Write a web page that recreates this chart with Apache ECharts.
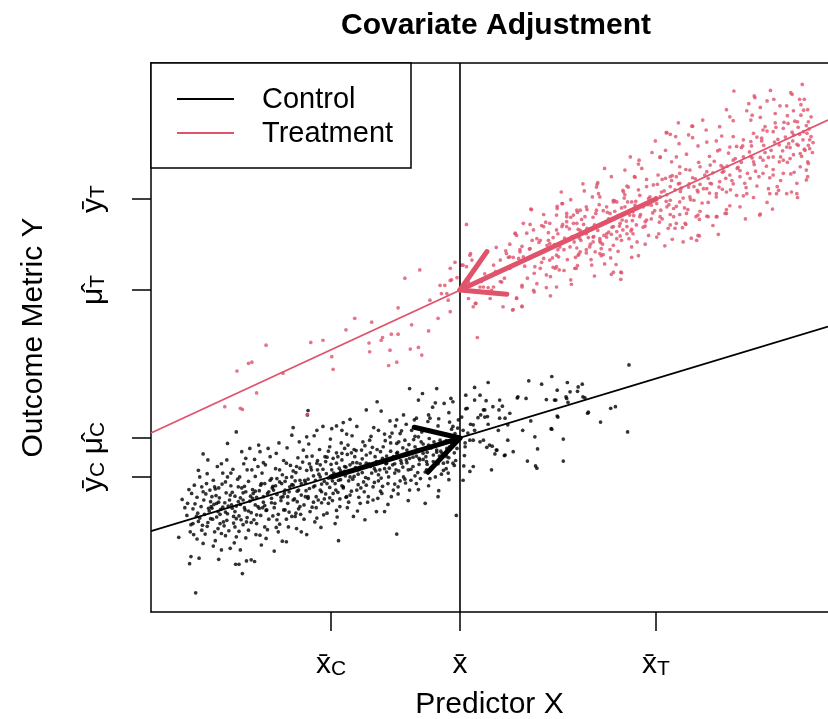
<!DOCTYPE html>
<html><head><meta charset="utf-8">
<script src="https://cdn.jsdelivr.net/npm/echarts@6/dist/echarts.min.js"></script>
<style>html,body{margin:0;padding:0;background:#fff}#c{width:828px;height:719px}</style>
</head><body><div id="c"></div><script>
const FONT = "'Liberation Sans', Arial, Helvetica, sans-serif";
const RED = '#DF536B';
const xTickValues = [26.59, 45.64, 74.59];
const xTickLabels = ['{m|x\u0304}{s|C}', '{m|x\u0304}', '{m|x\u0304}{s|T}'];
const yTickValues = [24.59, 31.69, 58.65, 75.23];
const yTickLabels = ['{m|y\u0304}{s|C}', '{m|\u03bc\u0302}{s|C}', '{m|\u03bc\u0302}{s|T}', '{m|y\u0304}{s|T}'];
const controlLine = [[0, 14.75], [100, 52.0]];
const treatmentLine = [[0, 32.6], [100, 89.6]];
const meanLineX = [45.64, 45.64];
const meanLineY = [0, 100];
const legendNames = ['Control', 'Treatment'];

const controlPoints = [
[47.8,40.9],[49.8,41.8],[55.8,42.1],[57.7,41.5],[59.2,42.9],[61.5,41.8],[63.7,41.5],[60.0,40.4],[61.9,40.1],[63.0,40.2],[63.8,39.2],[61.4,38.9],[59.6,38.6],[58.4,38.7],[55.4,38.9],[54.1,39.0],[51.5,38.6],[49.5,38.5],[46.5,39.5],[48.6,39.5],[47.8,38.6],[46.5,37.0],[49.1,36.8],[50.5,37.4],[51.4,36.8],[51.9,37.5],[53.0,36.2],[49.7,35.6],[48.3,35.4],[47.2,34.2],[49.8,34.2],[51.5,35.3],[56.1,34.8],[60.0,35.7],[64.6,36.4],[66.4,34.6],[67.9,37.1],[68.6,37.4],[70.6,45.0],[70.4,32.8],[59.1,33.4],[56.7,31.9],[60.9,31.5],[57.1,29.7],[55.6,27.5],[56.8,26.6],[57.0,26.2],[60.9,27.5],[53.5,29.2],[52.2,28.5],[51.0,29.5],[50.0,30.4],[50.3,25.9],[47.6,26.5],[46.2,26.6],[47.1,31.3],[48.6,31.0],[49.1,31.3],[52.7,31.3],[54.9,33.1],[51.3,33.1],[47.8,33.1],[46.4,30.1],[45.1,17.6],
[46.1,33.1],[46.8,32.6],[47.6,31.3],[46.4,30.8],[49.6,30.0],[50.4,30.2],[51.1,29.5],[50.8,28.8],[52.3,28.6],[47.6,34.1],[49.3,35.5],[48.7,35.9],[52.3,35.3],[52.7,34.1],[46.7,37.1],[49.3,36.8],[54.2,39.2],[59.8,38.6],[60.1,35.5],[59.2,33.3],[61.3,39.2],[61.6,38.2],[63.1,41.0],[64.1,39.0],[64.5,36.2],[46.1,24.0],[47.1,25.6],[46.3,28.5],
[38.2,40.7],[40.1,39.8],[42.2,40.7],[39.5,38.6],[42.0,38.1],[43.3,38.0],[44.6,38.3],[33.4,38.3],[34.0,36.6],[31.8,36.8],[36.3,35.0],[35.3,34.8],[37.3,35.9],[39.2,35.3],[41.0,35.9],[41.2,35.3],[44.1,34.6],[44.6,33.8],[30.4,33.8],[29.4,35.1],[28.4,34.5],[27.4,33.9],[28.2,33.1],[28.9,32.4],[26.7,33.4],[25.4,33.8],[24.5,33.1],[23.2,36.7],[23.1,35.9],[21.0,33.6],[20.8,32.2],[23.0,31.9],[12.6,32.8],[11.3,30.7],[7.7,28.8],[8.4,27.7],
[6.6,3.5],[13.5,7.0],[5.7,8.8],[7.1,9.8],[5.9,10.1],[10.0,9.6],[12.5,8.7],[13.0,8.7],[14.1,9.3],[14.8,9.5],[15.3,9.2],[4.1,13.6],[7.7,12.5],[9.2,12.0],[10.4,11.3],[11.7,11.6],[13.2,11.3],[16.3,12.2],[18.2,11.1],[20.0,12.8],[27.7,13.0],[36.3,14.2],
[4.6,20.5],[5.4,19.8],[5.8,14.6],[6.2,16.1],[6.7,17.4],[7.5,14.9],[7.7,21.9],[8.5,18.9],[9.0,21.0],[7.2,24.6],[8.7,22.2],[9.4,22.8],[9.7,19.8],[9.9,18.3],[10.2,16.1],[10.4,14.3],[11.0,23.7],[11.2,27.7],[11.3,24.6],[11.7,21.3],[11.9,19.5],[12.2,17.4],[12.4,15.5],[12.6,13.7],[12.9,22.8],[13.1,24.6],[13.4,29.2],[13.6,20.4],[13.9,18.6],[14.1,16.4],[14.4,14.9],[14.6,29.8],[14.9,25.9],[15.1,21.6],[15.4,19.5],[15.6,17.7],[15.8,26.5],[16.1,29.2],[16.3,23.4],[16.6,21.0],[16.8,15.5],[17.1,18.6],[17.3,29.8],[17.6,28.3],[17.8,24.3],[18.1,22.2],[18.3,19.8],[18.6,16.8],[18.8,14.6],[19.0,25.9],[19.3,23.4],[19.5,21.0],[19.8,18.6],[20.0,27.1],[20.3,15.5],[20.5,22.8],[20.8,24.6],[21.0,20.4],[21.3,17.4],[21.5,26.5],[21.8,22.2],[22.0,19.2],[22.2,14.6],[22.5,29.5],[22.7,24.0],[23.0,28.3],[23.2,21.0],[23.5,18.3],[23.7,25.9],[24.0,22.8],[24.2,16.4],[24.5,27.1],[24.7,20.4],[25.0,24.6],[25.2,21.9],[25.5,17.7],[25.7,28.3],[26.0,23.4],[26.2,19.8],[26.4,30.1],[26.7,25.9],[26.9,21.6],[27.2,16.1],[27.4,27.1],[27.7,24.0],[27.9,19.2],[28.2,28.9],[28.4,22.8],[28.6,26.5],[28.9,21.0],[29.1,30.4],[29.4,24.6],[29.9,17.4],[30.1,28.3],[30.4,22.2],[30.6,25.9],[30.9,19.8],[31.1,29.5],[31.4,23.7],[31.6,16.8],[31.8,27.1],[32.1,21.0],[32.3,31.3],[32.6,25.3],[32.8,22.8],[33.1,28.3],[33.3,18.3],[33.6,33.1],[33.8,25.9],[34.1,21.6],[34.3,30.1],[34.5,18.3],[34.8,27.1],[35.0,23.4],[35.3,31.9],[35.5,21.0],[35.8,28.3],[36.0,25.3],[36.3,30.7],[36.5,22.8],[36.8,32.5],[37.0,27.1],[37.3,24.6],[37.5,31.3],[37.8,29.5],[38.0,25.9],[38.2,22.2],[38.5,33.1],[38.7,26.5],[39.0,30.1],[39.2,23.4],[39.5,31.9],[39.7,27.7],[40.2,28.9],[40.5,19.8],[40.7,25.9],[41.0,30.4],[41.2,33.1],[41.7,27.4],[42.0,24.6],[42.2,29.5],[42.4,21.0],[42.7,31.3],[43.2,27.1],[43.7,28.3],[43.9,25.3],[44.1,30.1],[44.6,27.1],[44.9,32.5],[45.4,35.0],[45.9,35.5],
[6.2,18.8],[6.8,20.9],[7.0,16.5],[7.4,19.2],[7.9,17.8],[8.1,21.5],[8.3,15.6],[8.6,18.4],[8.8,20.1],[9.1,16.9],[9.3,19.6],[9.5,22.4],[9.7,17.3],[9.9,15.2],[10.1,20.8],[10.3,18.7],[10.5,23.3],[10.7,16.4],[10.9,19.9],[11.1,21.7],[11.3,17.9],[11.5,14.8],[11.6,20.4],[11.8,23.0],[12.0,18.9],[12.2,16.2],[12.4,21.1],[12.6,19.3],[12.8,24.2],[13.0,17.5],[13.2,20.8],[13.4,22.6],[13.6,15.9],[13.8,19.0],[14.0,21.9],[14.2,17.2],[14.4,23.8],[14.6,20.2],[14.8,18.1],[15.0,22.3],[15.2,16.8],[15.4,24.7],[15.6,20.9],[15.8,19.2],[16.0,22.1],[16.2,17.6],[16.4,25.3],[16.6,20.0],[16.8,23.4],[17.0,18.5],[17.2,21.6],[17.4,16.9],[17.6,24.0],[17.8,20.7],[18.0,22.9],[18.2,19.0],[18.4,26.1],[18.6,21.4],[18.8,17.8],[19.0,23.7],[19.2,20.3],[19.4,25.0],[19.6,18.6],[19.8,22.2],[20.0,24.5],[20.2,19.8],[20.4,21.9],[20.6,26.7],[20.8,17.4],[21.0,23.1],[21.2,20.6],[21.4,25.4],[21.6,22.0],[21.8,18.8],[22.0,24.0],[22.2,21.3],[22.4,27.3],[22.6,19.5],[22.8,23.6],[23.0,25.8],[23.2,20.7],[23.4,22.5],[23.6,26.4],[23.8,19.1],[24.0,24.8],[24.2,23.0],[24.4,21.0],[24.6,27.6],[24.8,25.1],[25.0,22.2],[25.2,19.9],[25.4,26.0],[25.6,23.8],[25.8,21.5],[26.0,28.2],[26.2,24.4],[26.4,22.7],[26.6,26.9],[26.8,20.3],[27.0,25.3],[27.2,23.4],[27.4,29.0],[27.6,21.8],[27.8,26.2],[28.0,24.1],[28.2,27.7],[28.4,22.6],[28.6,25.6],[28.8,20.9],[29.0,28.7],[29.2,23.9],[29.4,26.8],[29.6,22.0],[29.8,27.2],[30.0,24.7],[30.3,29.4],[30.6,23.2],[30.9,27.0],[31.2,25.4],[31.5,21.9],[31.8,28.6],[32.1,24.3],[32.4,26.5],[32.7,30.0],[33.0,23.6],[33.3,27.4],[33.6,25.0],[33.9,29.2],[34.2,22.9],[34.5,26.1],[34.8,28.4],[35.1,24.6],[35.4,30.8],[35.7,26.8],[36.0,23.3],[36.3,28.9],[36.6,25.7],[36.9,27.6],[37.2,29.9],[37.5,24.2],[37.8,27.2],[38.1,30.5],[38.4,26.0],[38.7,28.2],[39.0,24.8],[39.3,29.6],[39.6,26.9],[39.9,31.0],[40.2,27.8],[40.5,25.5],[40.8,29.1],[41.1,31.6],[41.4,26.3],[41.7,28.6],[42.0,30.2],[42.4,27.0],[42.8,29.3],[43.2,25.8],[43.6,31.2],[44.0,28.1],[44.4,30.6],[44.8,26.7],[45.2,29.8],
[5.3,17.6],[5.9,15.9],[6.5,19.7],[7.2,17.1],[7.8,20.4],[8.4,16.3],[9.0,18.9],[9.6,21.2],[10.2,17.8],[10.8,15.7],[11.4,19.3],[12.0,21.8],[12.6,17.0],[13.2,19.6],[13.8,22.9],[14.4,18.4],[15.0,20.7],[15.6,16.1],[16.2,23.1],[16.8,19.4],[17.4,21.9],[18.0,17.5],[18.6,24.3],[19.2,20.9],[19.8,23.8],[20.4,18.2],[21.0,25.7],[21.6,20.1],[22.2,23.4],[22.8,21.0],[23.4,27.0],[24.0,20.0],[24.6,25.9],[25.2,23.3],[25.8,27.4],[26.4,20.8],[27.0,24.6],[27.6,28.3],[28.2,23.0],[28.8,26.4],[29.4,21.3],[30.0,29.6],[30.6,25.1],[31.2,27.9],[31.8,23.1],[32.4,29.0],[33.0,26.1],[33.6,23.9],[34.2,28.0],[34.8,25.5],[35.4,29.3],[36.0,27.0],[36.6,31.0],[37.2,26.4],[37.8,28.6],[38.4,24.0],[39.0,32.0],[39.6,28.0],[40.2,30.6],[40.8,26.9],[41.4,29.9],[42.0,32.7],[42.6,28.4],[43.2,30.9],[43.8,27.3],[44.4,33.3],[45.0,31.1],
[6.0,21.6],[7.5,22.8],[9.2,24.0],[10.6,25.3],[12.1,26.0],[13.7,27.0],[15.3,27.8],[16.9,26.8],[18.5,28.9],[20.1,29.9],[21.7,28.1],[23.3,30.6],[24.9,29.6],[26.5,31.5],[28.1,30.8],[29.7,32.1],[31.3,31.0],[32.9,33.6],[34.5,32.4],[36.1,33.9],[37.7,34.2],[39.3,33.6],[40.9,34.7],[42.5,35.2],[44.0,36.3],
[6.8,13.3],[8.0,14.2],[9.5,13.0],[11.0,13.9],[12.3,12.6],[14.0,13.5],[15.5,14.1],[17.0,13.4],[18.5,15.4],[20.0,16.9],[21.5,15.2],[23.0,14.1],[24.5,17.1],[26.0,18.0],[27.5,17.3],[29.0,19.0],[30.5,18.4],[32.0,20.0],[33.5,20.7],[35.0,19.6],[36.5,21.5],[38.0,20.3],[39.5,22.3],[41.0,23.0],[42.5,22.1],[44.0,24.1],
[8.9,19.2],[10.0,20.0],[11.0,18.2],[12.9,20.1],[14.7,21.1],[16.5,19.0],[17.9,22.6],[19.7,21.6],[21.3,23.9],[22.9,22.1],[24.3,24.0],[25.9,25.2],[27.3,22.2],[28.7,24.8],[30.2,26.3],[31.7,24.5],[33.2,25.7],[34.7,27.0],[36.2,25.9],[37.7,27.7],[39.2,28.4],[40.7,27.4],[42.2,29.1],[43.7,29.8],
[5.0,19.0],[5.6,22.3],[6.3,14.1],[6.9,18.0],[7.6,15.8],[8.2,23.4],[8.8,17.0],[9.4,14.6],[10.0,22.6],[10.6,19.1],[11.2,16.7],[11.8,25.3],[12.4,18.3],[13.0,14.7],[13.6,21.7],[14.2,25.9],[14.8,16.3],[15.4,22.0],[16.0,18.9],[16.6,27.2],[17.2,15.0],[17.8,19.9],[18.4,23.0],[19.0,16.0],[19.6,27.6],[20.2,21.0],[20.8,23.2],[21.4,18.0],[22.0,26.2],[22.6,16.9],[23.2,24.2],[23.8,28.4],[24.4,19.0],[25.0,26.8],[25.6,20.6],[26.2,29.3],[26.8,23.9],[27.4,18.5],[28.0,25.7],[28.6,29.8],[29.2,20.0],[29.8,24.2],[30.4,27.2],[31.0,22.6],[31.6,30.3],[32.2,27.0],[32.8,20.4],[33.4,29.6],[34.0,24.4],[34.6,31.2],[35.2,26.2],[35.8,22.2],[36.4,29.1],[37.0,33.0],[37.6,23.5],[38.2,28.0],[38.8,31.4],[39.4,25.4],[40.0,32.8],[40.6,28.3],[41.2,24.3],[41.8,31.0],[42.4,33.9],[43.0,28.9],[43.6,26.1],[44.2,32.0],[44.8,29.0],[45.3,33.5],
[7.0,25.8],[9.8,26.5],[13.3,16.8],[16.1,14.0],[19.4,12.9],[22.1,17.8],[25.1,15.4],[27.9,20.6],[30.7,20.9],[33.9,22.0],[36.8,23.9],[39.8,24.3],[42.9,25.1],[45.0,27.6],[21.9,31.0],[24.1,32.1],[26.9,28.0],[29.6,29.0],[32.5,32.0],[35.6,32.6],[38.9,35.0],[41.6,37.3],[44.3,38.9],[18.9,30.8],[15.9,30.4],[14.0,28.0],[10.4,27.0],[8.3,25.2],[6.4,23.1]
];

const treatmentPoints = [
[86.1,94.9],[96.2,96.1],[94.5,94.6],[94.7,94.3],[89.1,94.0],[89.2,93.7],[91.0,93.1],[95.8,93.4],[96.5,93.4],[93.9,92.2],[92.9,92.2],[92.2,90.8],[94.9,91.3],[96.4,91.4],[85.5,90.2],[88.8,90.5],[90.0,90.1],[88.6,89.6],[92.2,89.1],[94.1,89.0],[95.5,89.3],[97.1,89.3],[97.5,90.2],[77.9,89.1],[79.9,88.5],[76.2,87.3],[76.7,87.0],[79.4,86.9],[84.3,86.7],[86.0,86.6],[87.5,86.0],[89.0,87.2],[90.4,87.8],[91.9,87.5],[93.4,88.1],[94.9,86.9],[96.4,87.5],[82.1,85.6],[83.5,85.8],[85.5,84.7],[87.2,84.6],[88.7,84.9],[90.2,85.8],[93.9,84.7],[95.6,85.0],[97.1,85.0],[97.3,84.4],[80.8,84.9],[79.1,83.4],[77.6,82.9],[75.2,82.8],[76.9,82.0],[72.1,82.3],[72.5,80.8],[74.9,79.6],[76.7,79.3],[78.1,79.9],[79.6,80.5],[81.1,81.1],[82.6,81.4],[84.5,81.0],[86.0,82.3],[87.5,82.9],[89.0,82.0],[90.4,82.3],[91.9,82.9],[93.4,82.3],[94.4,82.6],[95.9,81.1],[96.8,80.5],[93.4,79.9],[91.9,79.6],[90.4,79.9],[88.5,79.0],[87.0,79.3],[85.5,79.6],[84.0,78.4],[82.6,78.1],[81.1,77.9],[79.4,77.4],[78.1,78.1],[76.7,77.5],[75.4,76.5],[74.2,77.8],[73.2,77.5],[71.4,79.3],[70.3,77.6],[69.7,76.8],[72.2,75.9],[73.5,75.3],[75.2,75.6],[76.7,75.0],[78.1,74.7],[79.6,75.6],[80.8,76.5],[82.1,77.1],[83.5,76.2],[85.0,76.5],[86.5,75.9],[88.0,76.2],[90.0,72.5],[91.4,76.2],[92.7,76.8],[94.6,76.5],[95.4,76.2],[91.2,77.1],[84.8,72.6],[83.5,72.0],[82.1,72.1],[80.8,72.3],[79.1,72.6],[78.1,72.4],[77.2,73.5],[76.2,73.8],[74.7,74.4],[72.7,73.8],[71.2,72.9],[70.0,73.8],[68.8,74.7],[67.3,73.8],[65.8,73.2],[64.3,73.8],[62.9,73.2],[61.4,72.0],[59.9,72.3],[60.8,74.4],[60.0,73.5],[65.8,77.4],[65.9,77.9],[65.2,75.6],[66.3,75.6],[68.3,75.0],[72.2,72.0],[73.2,71.4],[75.2,72.0],[76.7,70.5],[77.6,70.8],[78.9,70.8],[77.4,69.9],[76.4,69.9],[74.7,68.3],[80.8,68.6],[80.6,67.7],[78.6,67.4],[71.2,68.9],[70.3,70.2],[69.3,70.8],[68.3,70.2],[67.3,68.9],[66.3,68.0],[65.3,68.3],[64.3,68.9],[63.4,69.5],[62.4,70.8],[61.4,70.2],[59.9,69.6],[58.9,70.8],[58.0,70.2],[56.5,69.6],[55.5,69.0],[57.5,67.7],[58.9,67.1],[60.4,66.5],[61.9,66.5],[63.4,65.6],[64.8,66.5],[66.3,65.3],[67.9,64.5],[68.3,61.9],[69.4,61.9],[69.4,60.6],[62.6,62.6],[62.1,59.7],[60.2,64.7],[58.9,64.1],[57.5,65.3],[56.0,66.2],[54.5,65.6],[53.0,64.7],[54.0,68.6],[53.8,69.0],[52.5,65.3],[51.6,64.1],[50.6,63.2],[56.1,73.4],[57.7,70.4],[56.7,62.9],[57.5,62.6],[58.4,61.4],[59.9,62.9],[56.5,58.6],[54.8,59.2],[54.8,55.6],[54.0,57.1],[53.5,55.1],[52.0,55.6],[51.8,60.1],[50.3,58.6],[50.1,57.1],[49.1,59.2],[47.9,56.2],[47.6,55.6],[46.9,57.1],[46.6,70.6],[47.4,64.1],[47.2,65.3],[45.9,63.2],[44.2,60.4],[43.4,59.5],[42.9,58.0],[43.7,58.0],[44.2,54.7],[48.8,60.2],
[80.0,88.5],[76.1,87.3],[75.2,82.9],[77.6,79.3],[70.5,77.4],[71.5,74.1],[70.7,72.3],[73.0,71.1],[81.0,68.5],[82.3,72.0],[83.6,72.0],[85.0,72.6],[89.9,72.3],[92.4,76.2],[93.9,76.2],[95.4,78.1],[96.8,78.7],[97.1,81.7],[96.6,84.1],[97.3,86.0],[95.9,83.5],
[17.0,48.6],[23.6,49.1],[26.7,46.5],[26.9,44.2],[14.4,45.3],[14.9,45.5],[12.7,43.9],[19.5,43.5],[15.6,39.9],[10.9,37.4],[13.2,37.1],[13.5,36.9],[23.1,36.0],[32.2,49.0],[32.3,47.4],[34.2,50.0],[35.5,50.6],[36.5,50.6],[38.3,47.9],[39.5,48.2],[35.1,44.9],[36.3,45.5],[41.0,51.2],[48.2,50.0],
[25.4,49.5],[28.8,51.4],[30.1,53.5],[32.6,52.8],[34.0,49.5],[35.3,47.7],[36.5,55.4],[38.5,52.3],[40.0,46.8],[41.2,56.8],[42.7,59.5],[43.9,56.8],[42.4,53.5],[37.5,60.8],[39.7,62.3],[44.2,62.6],[44.9,63.7],
[53.8,68.9],[54.8,66.6],[54.5,66.0],[57.0,68.0],[56.2,73.3],[58.7,67.7],[59.4,68.2],[59.9,65.0],[59.7,62.6],[55.0,64.7],[54.3,64.4],[53.5,64.6],[52.8,64.6],[52.4,65.8],[53.0,62.6],[51.6,60.2],[50.6,59.2],[49.8,59.1],[48.6,59.2],[47.1,65.0],[46.6,62.9],[46.1,63.2],[45.2,60.9],[44.4,60.5],[48.0,56.2],[53.4,55.0],[54.8,55.7],[54.0,57.2],[54.8,59.5],[56.6,58.3],[58.4,59.1],[59.9,59.2],[62.8,62.6],[63.1,65.0],[65.1,63.2],[64.3,66.0],[65.6,65.6],[66.5,66.2],[66.8,65.1],[68.0,61.5],[69.5,61.8],[65.3,67.4],[66.3,67.6],[67.3,68.3],[68.0,68.8],[69.3,68.5],[70.3,68.9],[71.0,69.7],[71.7,70.5],[69.5,67.7],[68.8,69.3],[60.7,74.4],[61.4,72.6],[62.4,72.3],[63.4,73.2],[64.4,73.3],[66.8,73.1],[67.8,72.6],[68.3,74.7],[69.8,76.5],[71.0,74.7],[71.5,79.2],[66.1,76.2],[62.9,70.8],[61.4,71.1],[60.7,70.2],[63.1,69.7],[64.4,69.9],
[58.5,66.8],[59.3,64.5],[60.1,68.9],[61.0,66.0],[61.8,69.8],[62.5,67.4],[63.2,65.2],[63.9,70.6],[64.6,68.2],[65.3,71.9],[66.0,69.5],[66.7,67.0],[67.4,72.8],[68.1,70.1],[68.8,68.0],[69.5,73.6],[70.2,71.2],[70.9,69.4],[71.6,74.8],[72.3,72.4],[73.0,70.3],[73.7,75.6],[74.4,73.1],[75.1,71.0],[75.8,76.7],[76.5,74.2],[77.2,72.0],[77.9,78.0],[78.6,75.4],[79.3,73.3],[80.0,79.1],[80.7,76.8],[81.4,74.5],[82.1,80.2],[82.8,78.0],[83.5,75.6],[84.2,81.3],[84.9,79.0],[85.6,76.9],[86.3,82.6],[87.0,80.4],[87.7,78.1],[88.4,83.8],[89.1,81.5],[89.8,79.3],[90.5,85.0],[91.2,82.8],[91.9,80.6],[92.6,86.1],[93.3,84.0],[94.0,81.9],[94.7,87.4],[95.4,85.2],[96.1,83.0],[96.8,88.6],[97.5,86.6],[63.0,72.8],[66.5,64.9],[70.0,76.0],[73.5,68.6],[77.0,79.5],[80.5,72.0],[84.0,84.2],[87.5,75.8],[91.0,87.6],[94.5,79.8],[68.5,74.9],[75.5,78.8],[82.5,83.0],[89.5,86.5],[96.0,90.5],[71.0,66.5],[78.5,70.0],[85.5,74.0],[92.5,77.5],[97.0,82.0],
[55.2,63.0],[55.9,66.1],[56.6,61.7],[57.3,67.3],[58.0,64.4],[58.7,69.1],[59.4,62.8],[60.1,66.0],[60.8,70.6],[61.5,64.2],[62.2,68.4],[62.9,66.3],[63.6,71.5],[64.3,65.4],[65.0,69.8],[65.7,72.6],[66.4,67.3],[67.1,70.9],[67.8,66.0],[68.5,73.0],[69.2,70.3],[69.9,75.4],[70.6,68.0],[71.3,72.2],[72.0,76.9],[72.7,70.1],[73.4,74.2],[74.1,72.7],[74.8,77.9],[75.5,71.6],[76.2,76.0],[76.9,78.6],[77.6,73.9],[78.3,77.2],[79.0,80.6],[79.7,75.1],[80.4,78.9],[81.1,73.0],[81.8,79.6],[82.5,76.3],[83.2,82.1],[83.9,77.4],[84.6,80.3],[85.3,83.6],[86.0,78.0],[86.7,81.0],[87.4,84.9],[88.1,79.9],[88.8,82.7],[89.5,77.6],[90.2,86.3],[90.9,81.2],[91.6,84.1],[92.3,88.3],[93.0,82.9],[93.7,86.5],[94.4,84.6],[95.1,89.4],[95.8,87.0],[96.5,84.3],[97.2,88.0],[97.8,85.5],
[56.0,70.6],[58.0,72.4],[60.0,73.9],[62.0,75.1],[64.0,76.7],[66.0,78.2],[68.0,79.3],[70.0,80.5],[72.0,81.6],[74.0,83.7],[76.0,84.1],[78.0,85.3],[80.0,86.4],[82.0,87.8],[84.0,88.4],[86.0,89.5],[88.0,91.3],[90.0,91.9],[92.0,93.4],[94.0,90.4],
[57.0,59.8],[59.0,61.1],[61.0,62.2],[63.0,63.1],[65.0,64.2],[67.0,63.4],[69.0,65.7],[71.0,64.6],[73.0,67.0],[75.0,68.9],[77.0,67.9],[79.0,70.6],[81.0,71.5],[83.0,70.4],[85.0,73.3],[87.0,73.8],[89.0,75.5],[91.0,74.6],[93.0,78.6],[95.0,80.1],[97.0,79.3],
[61.7,67.8],[63.3,68.1],[65.4,68.4],[67.6,69.2],[69.6,71.4],[71.8,73.5],[73.9,74.1],[76.1,74.8],[78.2,76.6],[80.2,77.5],[82.3,79.0],[84.4,80.1],[86.6,80.8],[88.6,83.0],[90.7,83.7],[92.8,85.1],[94.8,85.8],[96.9,87.2],
[55.6,60.8],[56.3,67.7],[57.7,63.7],[58.3,71.0],[59.6,66.9],[60.3,62.3],[61.1,68.1],[62.0,71.9],[62.7,64.6],[63.5,67.7],[64.1,72.0],[64.9,67.0],[65.5,70.5],[66.2,74.2],[66.9,68.6],[67.6,71.6],[68.3,66.8],[69.0,72.2],[69.7,69.6],[70.4,74.7],[71.1,71.3],[71.8,67.4],[72.5,74.0],[73.2,78.8],[73.9,71.6],[74.6,75.5],[75.3,73.2],[76.0,79.0],[76.7,72.4],[77.4,76.9],[78.1,81.1],[78.8,73.6],[79.5,78.0],[80.2,75.0],[80.9,81.9],[81.6,77.1],[82.3,74.6],[83.0,80.0],[83.7,84.0],[84.4,77.0],[85.1,81.2],[85.8,78.6],[86.5,84.8],[87.2,81.9],[87.9,77.3],[88.6,85.7],[89.3,80.3],[90.0,82.8],[90.7,88.4],[91.4,79.1],[92.1,85.6],[92.8,82.0],[93.5,89.2],[94.2,85.3],[94.9,83.3],[95.6,88.3],[96.3,86.0],[97.0,91.5],[97.7,83.7],[96.0,92.4],
[60.6,76.5],[63.8,78.0],[67.0,80.8],[70.8,82.9],[74.5,85.8],[77.5,86.6],[81.5,89.6],[85.0,91.5],[88.3,92.6],[91.5,95.0],[59.0,57.6],[62.0,60.5],[65.5,61.2],[68.7,63.3],[72.0,64.9],[75.9,66.7],[79.8,68.1],[83.8,68.8],[87.8,71.6],[91.8,73.4],[95.5,75.5],[50.9,62.0],[52.2,60.8],[49.3,61.6],[48.0,62.7],[46.9,60.1],[45.6,58.8],[51.0,66.4],[53.0,67.0],[55.0,70.8]
];

// arrows: from group mean (x, y) to adjusted point at overall mean x
const arrowData = [
  [xTickValues[0], yTickValues[0], xTickValues[1], yTickValues[1], 0],
  [xTickValues[2], yTickValues[3], xTickValues[1], yTickValues[2], 1]
];
const arrowColors = ['#000000', RED];

function labelFor(vals, labels) {
  return function (v) {
    for (let i = 0; i < vals.length; i++) if (Math.abs(vals[i] - v) < 1e-6) return labels[i];
    return '';
  };
}

const chart = echarts.init(document.getElementById('c'), null, {renderer: 'canvas'});
const axisBase = {
  axisLine: {show: true, onZero: false, lineStyle: {color: '#000', width: 1.5}},
  splitLine: {show: false}
};
const richStyle = {
  m: {fontFamily: FONT, fontSize: 30, color: '#000', verticalAlign: 'bottom', lineHeight: 34},
  s: {fontFamily: FONT, fontSize: 21, color: '#000', verticalAlign: 'bottom', lineHeight: 27}
};
chart.setOption({
  animation: false,
  backgroundColor: '#fff',
  title: {
    text: 'Covariate Adjustment', left: 491, top: 6, textAlign: 'center',
    textStyle: {fontFamily: FONT, fontSize: 30, fontWeight: 'bold', color: '#000'}
  },
  grid: {left: 151, top: 63, width: 677, height: 549, containLabel: false, outerBoundsMode: 'none'},
  xAxis: [
    Object.assign({}, axisBase, {
      type: 'value', min: 0, max: 100, position: 'bottom',
      name: 'Predictor X', nameLocation: 'middle', nameGap: 78,
      nameTextStyle: {fontFamily: FONT, fontSize: 30, color: '#000'},
      axisTick: {show: true, length: 19, lineStyle: {color: '#000', width: 1.5}, customValues: xTickValues},
      axisLabel: {
        show: true, margin: 34, customValues: xTickValues, formatter: labelFor(xTickValues, xTickLabels),
        rich: richStyle
      }
    }),
    Object.assign({}, axisBase, {
      type: 'value', min: 0, max: 100, position: 'top',
      axisTick: {show: false}, axisLabel: {show: false}
    })
  ],
  yAxis: [
    Object.assign({}, axisBase, {
      type: 'value', min: 0, max: 100, position: 'left',
      name: 'Outcome Metric Y', nameLocation: 'middle', nameGap: 102, nameRotate: 90,
      nameTextStyle: {fontFamily: FONT, fontSize: 30, color: '#000'},
      axisTick: {show: true, length: 19, lineStyle: {color: '#000', width: 1.5}, customValues: yTickValues},
      axisLabel: {
        show: true, rotate: 90, margin: 42, customValues: yTickValues, formatter: labelFor(yTickValues, yTickLabels),
        rich: richStyle
      }
    })
  ],
  series: [
    {type: 'scatter', name: 'Control', data: controlPoints, symbolSize: 3.7,
     itemStyle: {color: '#000'}, silent: true, z: 2},
    {type: 'scatter', name: 'Treatment', data: treatmentPoints, symbolSize: 3.7,
     itemStyle: {color: RED}, silent: true, z: 2},
    {type: 'line', data: controlLine, showSymbol: false, symbol: 'none',
     lineStyle: {color: '#000', width: 1.8}, silent: true, z: 3},
    {type: 'line', data: treatmentLine, showSymbol: false, symbol: 'none',
     lineStyle: {color: RED, width: 1.8}, silent: true, z: 3},
    {type: 'line', data: [[meanLineX[0], meanLineY[0]], [meanLineX[1], meanLineY[1]]], showSymbol: false, symbol: 'none',
     lineStyle: {color: '#000', width: 1.6}, silent: true, z: 3},
    {type: 'custom', data: arrowData, silent: true, z: 5,
     encode: {x: [0, 2], y: [1, 3]},
     renderItem: function (params, api) {
       const p0 = api.coord([api.value(0), api.value(1)]);
       const p1 = api.coord([api.value(2), api.value(3)]);
       const col = arrowColors[api.value(4)];
       const ang = Math.atan2(p0[1] - p1[1], p0[0] - p1[0]);
       const L = 47, da = Math.PI / 6;
       const a1 = [p1[0] + L * Math.cos(ang + da), p1[1] + L * Math.sin(ang + da)];
       const a2 = [p1[0] + L * Math.cos(ang - da), p1[1] + L * Math.sin(ang - da)];
       const st = {stroke: col, lineWidth: 5, lineCap: 'round', lineJoin: 'round', fill: null};
       return {type: 'group', children: [
         {type: 'line', shape: {x1: p0[0], y1: p0[1], x2: p1[0], y2: p1[1]}, style: st},
         {type: 'polyline', shape: {points: [a1, p1, a2]}, style: st}
       ]};
     }}
  ],
  graphic: [
    {type: 'rect', shape: {x: 151, y: 63, width: 260, height: 105}, style: {fill: '#fff', stroke: '#000', lineWidth: 1.5}, z: 100},
    {type: 'line', shape: {x1: 177, y1: 99, x2: 234, y2: 99}, style: {stroke: '#000', lineWidth: 1.8}, z: 101},
    {type: 'line', shape: {x1: 177, y1: 133, x2: 234, y2: 133}, style: {stroke: RED, lineWidth: 1.8}, z: 101},
    {type: 'text', x: 262, y: 100, style: {text: legendNames[0], fontFamily: FONT, fontSize: 29, fill: '#000', verticalAlign: 'middle'}, z: 101},
    {type: 'text', x: 262, y: 134, style: {text: legendNames[1], fontFamily: FONT, fontSize: 29, fill: '#000', verticalAlign: 'middle'}, z: 101}
  ]
});
</script></body></html>
